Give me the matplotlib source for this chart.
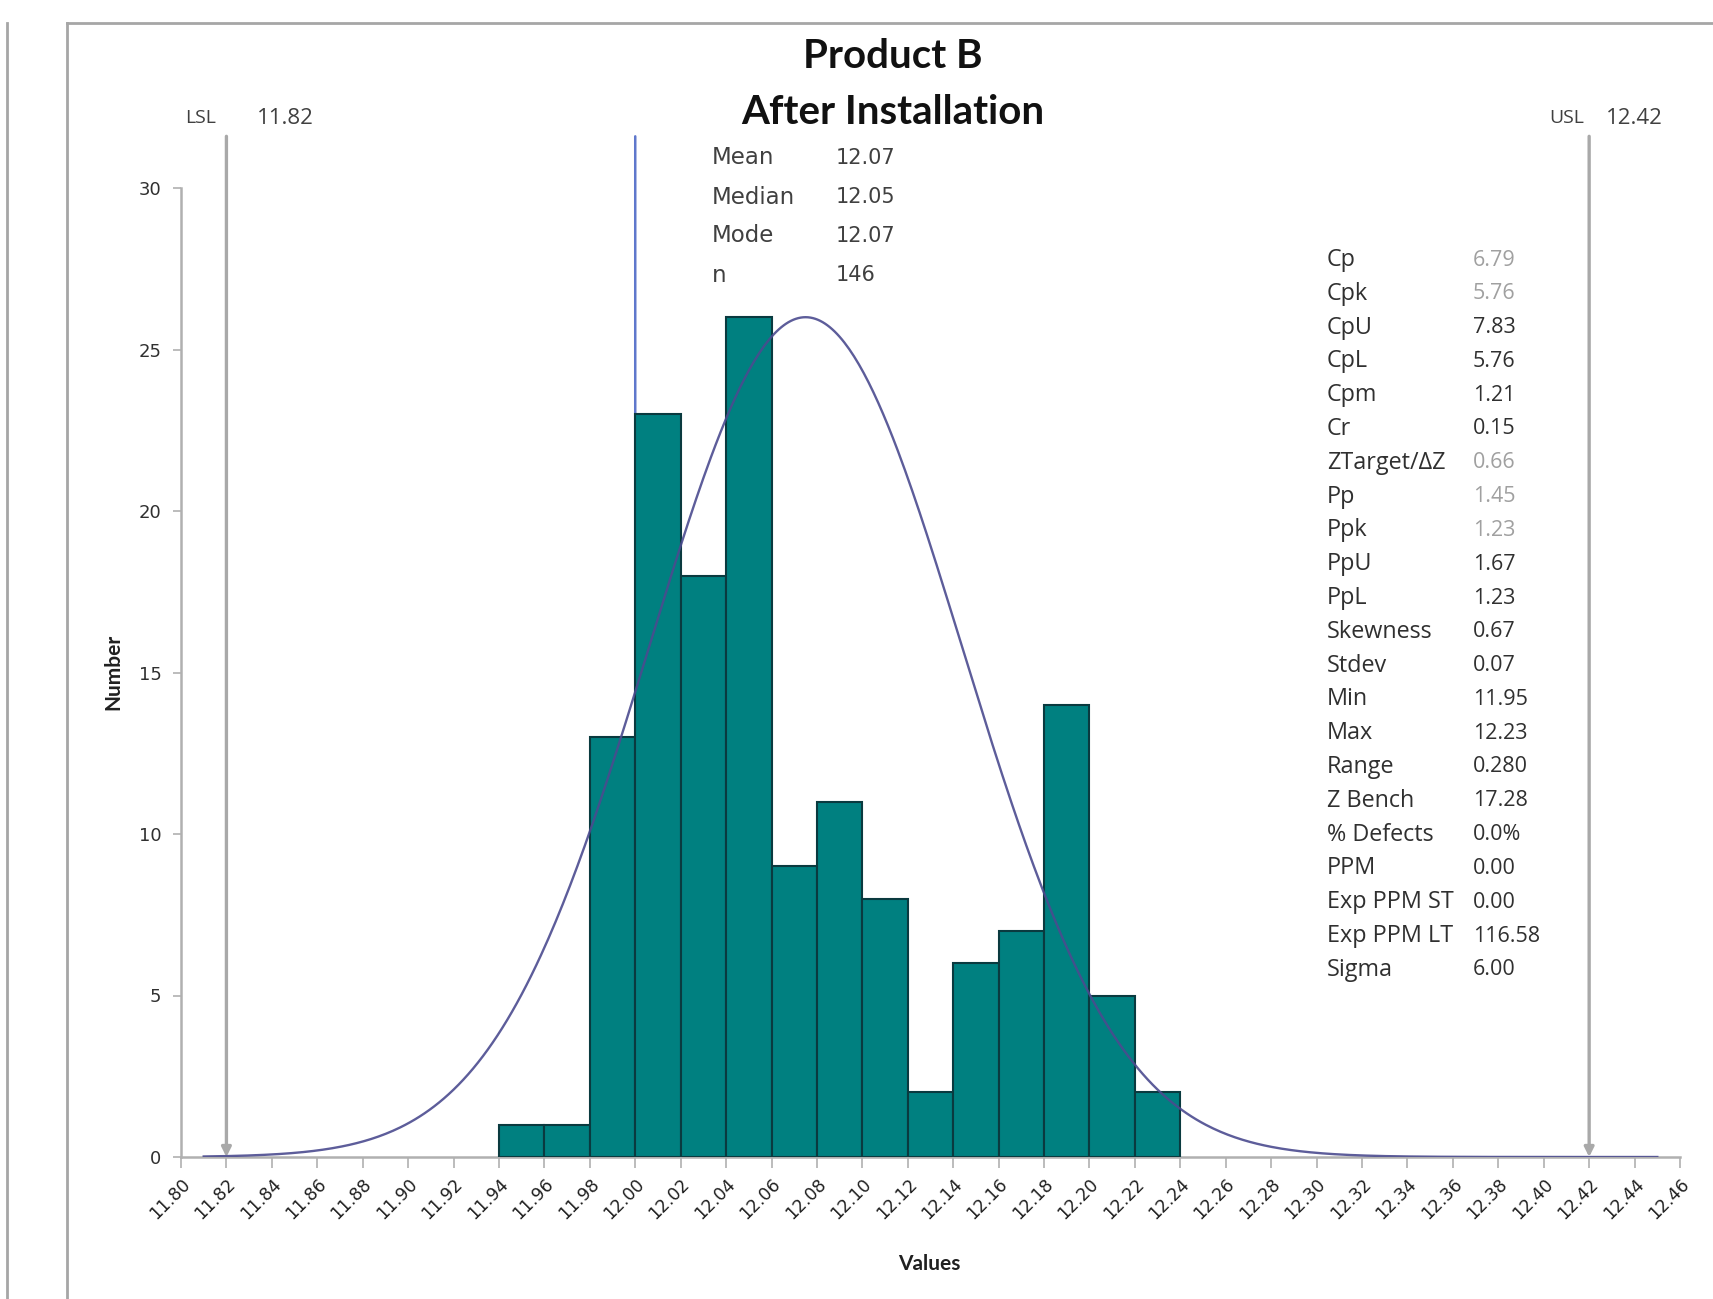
import numpy as np
import matplotlib
matplotlib.use("Agg")
import matplotlib.pyplot as plt
from matplotlib.lines import Line2D

# ---------------- data ----------------
bin_left = [11.94, 11.96, 11.98, 12.00, 12.02, 12.04, 12.06, 12.08,
            12.10, 12.12, 12.14, 12.16, 12.18, 12.20, 12.22]
counts = [1, 1, 13, 23, 18, 26, 9, 11, 8, 2, 6, 7, 14, 5, 2]
bin_width = 0.02

curve_mean = 12.075
curve_sd = 0.069
curve_peak = 26.0
curve_start, curve_end = 11.81, 12.45

lsl = 11.82
usl = 12.42
target = 12.00

title_lines = ["Product B", "After Installation"]

top_labels = ["Mean", "Median", "Mode", "n"]
top_values = ["12.07", "12.05", "12.07", "146"]

stat_labels = ["Cp", "Cpk", "CpU", "CpL", "Cpm", "Cr", "ZTarget/\u0394Z", "Pp", "Ppk",
               "PpU", "PpL", "Skewness", "Stdev", "Min", "Max", "Range", "Z Bench",
               "% Defects", "PPM", "Exp PPM ST", "Exp PPM LT", "Sigma"]
stat_values = ["6.79", "5.76", "7.83", "5.76", "1.21", "0.15", "0.66", "1.45", "1.23",
               "1.67", "1.23", "0.67", "0.07", "11.95", "12.23", "0.280", "17.28",
               "0.0%", "0.00", "0.00", "116.58", "6.00"]
stat_muted = [True, True, False, False, False, False, True, True, True,
              False, False, False, False, False, False, False, False,
              False, False, False, False, False]

xticks = np.round(np.arange(11.80, 12.4601, 0.02), 2)
yticks = [0, 5, 10, 15, 20, 25, 30]

# ---------------- figure ----------------
W, H = 1713, 1299
fig = plt.figure(figsize=(W / 100, H / 100), dpi=100)
fig.patch.set_facecolor("white")

def fx(x):
    return x / W

def fy(y):
    return 1 - y / H

# frame lines
fig.add_artist(Line2D([fx(67), fx(67)], [fy(23), fy(1305)], color="#a6a6a6", lw=2))
fig.add_artist(Line2D([fx(67), fx(1720)], [fy(23), fy(23)], color="#a6a6a6", lw=2))
fig.add_artist(Line2D([fx(7), fx(7)], [fy(23), fy(1305)], color="#a6a6a6", lw=2))

ax_l, ax_r, ax_t, ax_b = 181, 1680, 188, 1157
ax = fig.add_axes([fx(ax_l), fy(ax_b), fx(ax_r - ax_l), (ax_b - ax_t) / H])
ax.set_xlim(11.80, 12.46)
ax.set_ylim(0, 30)
ax.patch.set_alpha(0)

for s in ["top", "right"]:
    ax.spines[s].set_visible(False)
for s in ["left", "bottom"]:
    ax.spines[s].set_color("#b0b0b0")
    ax.spines[s].set_linewidth(1.8)

ax.set_xticks(xticks)
ax.set_xticklabels([f"{v:.2f}" for v in xticks], rotation=45, ha="right",
                   va="top", rotation_mode="anchor", fontsize=12.5, color="#202020")
ax.set_yticks(yticks)
ax.set_yticklabels([str(v) for v in yticks], fontsize=13, color="#303030")
ax.tick_params(axis="x", direction="out", length=8, width=1.2, color="#b0b0b0", pad=5)
ax.tick_params(axis="y", direction="out", length=6, width=1.2, color="#b0b0b0", pad=8)

# bars
ax.bar(bin_left, counts, width=bin_width, align="edge", color="#008080",
       edgecolor="#0a3a3f", linewidth=1.5, zorder=3)

# target line
ax.annotate("", xy=(target, 0), xytext=(target, 31.6), xycoords="data",
            arrowprops=dict(arrowstyle="-|>", color="#5f78cc", lw=1.8,
                            mutation_scale=14, shrinkA=0, shrinkB=0),
            annotation_clip=False, zorder=2)

# spec lines
for v in (lsl, usl):
    ax.annotate("", xy=(v, 0), xytext=(v, 31.6), xycoords="data",
                arrowprops=dict(arrowstyle="-|>", color="#a9a9a9", lw=2.4,
                                mutation_scale=14, shrinkA=0, shrinkB=0),
                annotation_clip=False, zorder=2)

# normal curve
xc = np.linspace(curve_start, curve_end, 600)
yc = curve_peak * np.exp(-0.5 * ((xc - curve_mean) / curve_sd) ** 2)
ax.plot(xc, yc, color="#4b4b8f", lw=1.7, zorder=4, alpha=0.9)

# axis titles
fig.text(fx(929), fy(1264), "Values", ha="center", va="center",
         fontsize=15, fontweight="bold", family="Lato", color="#202020")
fig.text(fx(113), fy(672), "Number", ha="center", va="center", rotation=90,
         fontsize=15, fontweight="bold", family="Lato", color="#202020")

# title
fig.text(fx(893), fy(57), title_lines[0], ha="center", va="center",
         fontsize=29, fontweight="bold", family="Lato", color="#111111")
fig.text(fx(893), fy(112), title_lines[1], ha="center", va="center",
         fontsize=29, fontweight="bold", family="Lato", color="#111111")

# LSL / USL labels
fig.text(fx(216), fy(118), "LSL", ha="right", va="center", fontsize=14,
         family="Open Sans", color="#404040")
fig.text(fx(257), fy(118), f"{lsl:.2f}", ha="left", va="center", fontsize=16,
         family="Open Sans", color="#404040")
fig.text(fx(1584), fy(118), "USL", ha="right", va="center", fontsize=14,
         family="Open Sans", color="#404040")
fig.text(fx(1606), fy(118), f"{usl:.2f}", ha="left", va="center", fontsize=16,
         family="Open Sans", color="#404040")

# top stats block
for i, (lab, val) in enumerate(zip(top_labels, top_values)):
    y = 158 + i * 39
    fig.text(fx(712), fy(y), lab, ha="left", va="center", fontsize=16.5,
             family="DejaVu Sans", color="#404040")
    fig.text(fx(836), fy(y), val, ha="left", va="center", fontsize=15,
             family="DejaVu Sans", color="#404040")

# right stats block
for i, (lab, val, muted) in enumerate(zip(stat_labels, stat_values, stat_muted)):
    y = 260 + i * 33.8
    fig.text(fx(1327), fy(y), lab, ha="left", va="center", fontsize=16.8,
             family="Open Sans", color="#303030")
    fig.text(fx(1473), fy(y), val, ha="left", va="center", fontsize=15.5,
             family="Open Sans", color="#a0a0a0" if muted else "#303030")

fig.savefig("out.png", dpi=100, facecolor="white")
